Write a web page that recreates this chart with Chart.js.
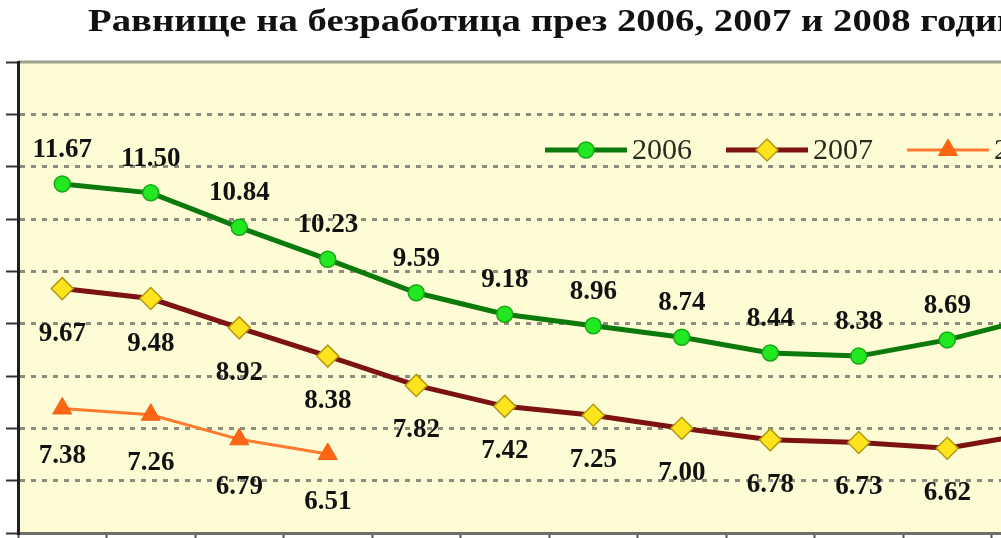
<!DOCTYPE html>
<html lang="bg">
<head>
<meta charset="UTF-8" />
<title>Равнище на безработица</title>
<script src="https://cdn.jsdelivr.net/npm/chart.js@4.4.3/dist/chart.umd.js"></script>
<style>
  html,body{margin:0;padding:0;background:#fff;overflow:hidden}
  canvas{display:block}
</style>
</head>
<body>
<canvas id="chart" width="1140" height="560" style="width:1140px;height:560px"></canvas>
<script>
  /* ==== DATA ==== */
  const TITLE = 'Равнище на безработица през 2006, 2007 и 2008 години';
  const months = ['I','II','III','IV','V','VI','VII','VIII','IX','X','XI','XII'];
  const years = ['2006','2007','2008'];
  const rate2006 = [11.67,11.50,10.84,10.23,9.59,9.18,8.96,8.74,8.44,8.38,8.69,9.12];
  const rate2007 = [9.67,9.48,8.92,8.38,7.82,7.42,7.25,7.00,6.78,6.73,6.62,6.91];
  const rate2008 = [7.38,7.26,6.79,6.51];
  const yMin = 5, yMax = 14, yStep = 1;

  /* ==== SIZE (chart is wider than the window, like the cropped original) ==== */
  const W = 1140, H = 560;
  const PLOT_RIGHT = 1080;

  /* ==== PLUGINS ==== */
  const plotBg = {
    id:'plotBg',
    beforeDraw(chart){
      const {ctx, chartArea:a} = chart;
      ctx.save();
      ctx.fillStyle = '#fefcd4';
      ctx.fillRect(a.left, a.top, a.right - a.left, a.bottom - a.top);
      ctx.strokeStyle = '#a09e8c'; ctx.lineWidth = 3;
      ctx.beginPath(); ctx.moveTo(a.left, a.top); ctx.lineTo(a.right, a.top); ctx.stroke();
      ctx.restore();
    }
  };

  // title drawn a bit stretched sideways, as in the original picture
  const wideTitle = {
    id:'wideTitle',
    afterDraw(chart){
      const ctx = chart.ctx;
      ctx.save();
      ctx.font = 'bold 31px "Liberation Serif"';
      ctx.fillStyle = '#111';
      ctx.textAlign = 'left'; ctx.textBaseline = 'middle';
      ctx.translate(88, 23);
      ctx.scale(1.25, 1);
      ctx.fillText(TITLE, 0, 0);
      ctx.restore();
    }
  };

  // label offsets per series (above for 2006, below for the others)
  const labelDy = [-34, 45, 48];
  const valueLabels = {
    id:'valueLabels',
    afterDatasetsDraw(chart){
      const ctx = chart.ctx;
      ctx.save();
      ctx.font = 'bold 27px "Liberation Serif"';
      ctx.fillStyle = '#111';
      ctx.textAlign = 'center'; ctx.textBaseline = 'middle';
      chart.data.datasets.forEach((ds,i)=>{
        chart.getDatasetMeta(i).data.forEach((pt,j)=>{
          ctx.fillText(ds.data[j].toFixed(2), pt.x, pt.y + labelDy[i]);
        });
      });
      ctx.restore();
    }
  };

  // legend sits inside the plot, line + marker + text
  const innerLegend = {
    id:'innerLegend',
    afterDraw(chart){
      const {ctx, chartArea:a} = chart;
      const y = a.top + 88;
      ctx.save();
      ctx.font = '30px "Liberation Serif"';
      ctx.textBaseline = 'middle'; ctx.textAlign = 'left';
      chart.data.datasets.forEach((ds,i)=>{
        const x0 = a.left + 527 + i*181;
        ctx.strokeStyle = ds.borderColor; ctx.lineWidth = ds.borderWidth;
        ctx.beginPath(); ctx.moveTo(x0, y); ctx.lineTo(x0 + 82, y); ctx.stroke();
        ctx.fillStyle = ds.pointBackgroundColor; ctx.strokeStyle = ds.pointBorderColor;
        ctx.lineWidth = ds.pointBorderWidth;
        Chart.helpers.drawPoint(ctx, {pointStyle: ds.pointStyle, radius: ds.pointRadius, rotation: 0, borderWidth: ds.pointBorderWidth}, x0 + 41, y);
        ctx.fillStyle = '#2a2a20';
        ctx.fillText(ds.label, x0 + 87, y + 1);
      });
      ctx.restore();
    }
  };

  /* ==== CHART ==== */
  new Chart(document.getElementById('chart').getContext('2d'), {
    type:'line',
    data:{
      labels: months,
      datasets:[
        {label:years[0], data:rate2006, borderColor:'#0b7a0b', borderWidth:5,
         pointStyle:'circle', pointRadius:8, pointBackgroundColor:'#22e822',
         pointBorderColor:'#17a817', pointBorderWidth:1.5},
        {label:years[1], data:rate2007, borderColor:'#7d1212', borderWidth:5,
         pointStyle:'rectRot', pointRadius:11, pointBackgroundColor:'#ffe31c',
         pointBorderColor:'#b39a14', pointBorderWidth:1.5},
        {label:years[2], data:rate2008, borderColor:'#ff7a2e', borderWidth:3,
         pointStyle:'triangle', pointRadius:11, pointBackgroundColor:'#ff6614',
         pointBorderColor:'#f06010', pointBorderWidth:1}
      ]
    },
    options:{
      responsive:false, animation:false,
      layout:{padding:{left:0, right:W - PLOT_RIGHT, top:62, bottom:0}},
      scales:{
        x:{
          offset:true,
          grid:{drawOnChartArea:false, drawTicks:true, tickLength:6, tickColor:'#555', tickWidth:2, offset:true},
          border:{color:'#6f6f68', width:3},
          ticks:{display:false},
          afterFit(s){ s.height = H - 533; }
        },
        y:{
          min:yMin, max:yMax,
          ticks:{stepSize:yStep, display:false},
          grid:{
            color:c => (c.tick && (c.tick.value === yMin || c.tick.value === yMax)) ? 'rgba(0,0,0,0)' : '#8e8c7e',
            lineWidth:3, drawTicks:true, tickLength:12, tickColor:'#333', tickWidth:2, tickBorderDash:[]
          },
          border:{color:'#1e1e1a', width:3, dash:[5,6]},
          afterFit(s){ s.width = 18; }
        }
      },
      plugins:{
        legend:{display:false},
        tooltip:{enabled:false},
        title:{display:false}
      }
    },
    plugins:[plotBg, valueLabels, innerLegend, wideTitle]
  });
</script>
</body>
</html>
